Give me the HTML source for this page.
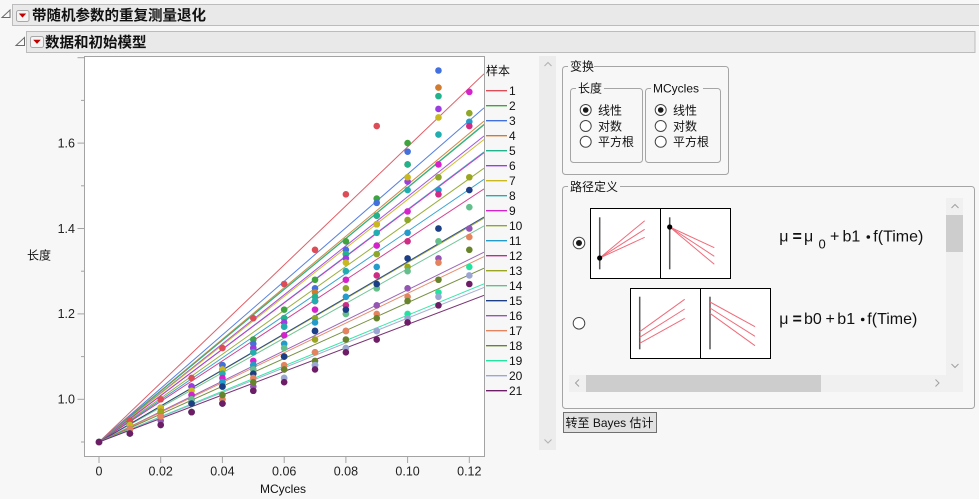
<!DOCTYPE html>
<html><head><meta charset="utf-8"><style>
html,body{margin:0;padding:0;background:#f7f7f7;}
svg{display:block;}
text{font-family:"Liberation Sans","Noto Sans CJK SC",sans-serif;fill:#111;}
.t{font-size:12.5px;fill:#222;}
.l{font-size:12px;}
.h{font-size:14.5px;font-weight:bold;}
.f{font-size:16px;}
.ln{fill:none;stroke-width:1;opacity:0.9;}
</style></head><body>
<svg width="979" height="499" viewBox="0 0 979 499" xmlns="http://www.w3.org/2000/svg">
<defs>
<ellipse id="p" cx="0" cy="0" rx="0.107" ry="0.773"/>
<clipPath id="pc"><rect x="85" y="57" width="399" height="399"/></clipPath>
</defs>
<rect x="0" y="0" width="979" height="499" fill="#f7f7f7"/>

<!-- Header 1 -->
<rect x="12.5" y="4.5" width="970" height="21" fill="#e9e9e9" stroke="#bcbcbc"/>
<polygon points="2,17.5 10,17.5 10,10" fill="#fafafa" stroke="#6a6a6a" stroke-width="1"/>
<rect x="16.5" y="10.5" width="12.5" height="11" rx="2" fill="#f4f4f4" stroke="#a8a8a8"/>
<polygon points="18.8,13.5 26.2,13.5 22.5,17.6" fill="#c00000"/>
<text x="32" y="20.5" class="h">带随机参数的重复测量退化</text>

<!-- Header 2 -->
<rect x="26.5" y="31.5" width="948.5" height="21" fill="#e9e9e9" stroke="#bcbcbc"/>
<polygon points="16,45.5 24.5,45.5 24.5,37.5" fill="#fafafa" stroke="#6a6a6a" stroke-width="1"/>
<rect x="30.5" y="36.5" width="13" height="11" rx="2" fill="#f4f4f4" stroke="#a8a8a8"/>
<polygon points="33.2,39.8 40.8,39.8 37,43.9" fill="#c00000"/>
<text x="45" y="47.5" class="h">数据和初始模型</text>

<!-- Plot frame -->
<rect x="84.5" y="56.5" width="400" height="400" fill="#ffffff"/>

<!-- fitted lines -->
<g clip-path="url(#pc)">
<line class="ln" x1="99" y1="442" x2="484" y2="73.8" stroke="#DC4D57"/>
<line class="ln" x1="99" y1="442" x2="484" y2="124.9" stroke="#3FA33F"/>
<line class="ln" x1="99" y1="442" x2="484" y2="107.9" stroke="#4271DE"/>
<line class="ln" x1="99" y1="442" x2="484" y2="121.1" stroke="#D27B2E"/>
<line class="ln" x1="99" y1="442" x2="484" y2="124.2" stroke="#22B28C"/>
<line class="ln" x1="99" y1="442" x2="484" y2="136.0" stroke="#9B3DE3"/>
<line class="ln" x1="99" y1="442" x2="484" y2="139.5" stroke="#C9B81E"/>
<line class="ln" x1="99" y1="442" x2="484" y2="151.9" stroke="#22ADB0"/>
<line class="ln" x1="99" y1="442" x2="484" y2="152.8" stroke="#D523CC"/>
<line class="ln" x1="99" y1="442" x2="484" y2="168.2" stroke="#8EA72A"/>
<line class="ln" x1="99" y1="442" x2="484" y2="179.3" stroke="#239BCB"/>
<line class="ln" x1="99" y1="442" x2="484" y2="188.9" stroke="#CF2C86"/>
<line class="ln" x1="99" y1="442" x2="484" y2="218.2" stroke="#9AA520"/>
<line class="ln" x1="99" y1="442" x2="484" y2="225.9" stroke="#64BF8C"/>
<line class="ln" x1="99" y1="442" x2="484" y2="217.1" stroke="#1C3E86"/>
<line class="ln" x1="99" y1="442" x2="484" y2="252.2" stroke="#9455B3"/>
<line class="ln" x1="99" y1="442" x2="484" y2="256.6" stroke="#E3845F"/>
<line class="ln" x1="99" y1="442" x2="484" y2="268.2" stroke="#67842D"/>
<line class="ln" x1="99" y1="442" x2="484" y2="283.8" stroke="#22E4A0"/>
<line class="ln" x1="99" y1="442" x2="484" y2="287.5" stroke="#9DA6D3"/>
<line class="ln" x1="99" y1="442" x2="484" y2="295.3" stroke="#6C1D66"/>
</g>

<!-- data points: x = index (0.01 MCycles), y = length*100 -->
<g transform="translate(99,826.3) scale(30.86,-4.27)">
<g fill="#DC4D57"><use href="#p" x="0" y="90"/><use href="#p" x="1" y="95"/><use href="#p" x="2" y="100"/><use href="#p" x="3" y="105"/><use href="#p" x="4" y="112"/><use href="#p" x="5" y="119"/><use href="#p" x="6" y="127"/><use href="#p" x="7" y="135"/><use href="#p" x="8" y="148"/><use href="#p" x="9" y="164"/></g>
<g fill="#3FA33F"><use href="#p" x="0" y="90"/><use href="#p" x="1" y="94"/><use href="#p" x="2" y="98"/><use href="#p" x="3" y="103"/><use href="#p" x="4" y="108"/><use href="#p" x="5" y="114"/><use href="#p" x="6" y="121"/><use href="#p" x="7" y="128"/><use href="#p" x="8" y="137"/><use href="#p" x="9" y="147"/><use href="#p" x="10" y="160"/></g>
<g fill="#4271DE"><use href="#p" x="0" y="90"/><use href="#p" x="1" y="94"/><use href="#p" x="2" y="98"/><use href="#p" x="3" y="103"/><use href="#p" x="4" y="108"/><use href="#p" x="5" y="113"/><use href="#p" x="6" y="119"/><use href="#p" x="7" y="126"/><use href="#p" x="8" y="135"/><use href="#p" x="9" y="146"/><use href="#p" x="10" y="158"/><use href="#p" x="11" y="177"/></g>
<g fill="#D27B2E"><use href="#p" x="0" y="90"/><use href="#p" x="1" y="94"/><use href="#p" x="2" y="98"/><use href="#p" x="3" y="103"/><use href="#p" x="4" y="107"/><use href="#p" x="5" y="112"/><use href="#p" x="6" y="119"/><use href="#p" x="7" y="125"/><use href="#p" x="8" y="134"/><use href="#p" x="9" y="143"/><use href="#p" x="10" y="155"/><use href="#p" x="11" y="173"/></g>
<g fill="#22B28C"><use href="#p" x="0" y="90"/><use href="#p" x="1" y="94"/><use href="#p" x="2" y="98"/><use href="#p" x="3" y="103"/><use href="#p" x="4" y="107"/><use href="#p" x="5" y="112"/><use href="#p" x="6" y="119"/><use href="#p" x="7" y="124"/><use href="#p" x="8" y="134"/><use href="#p" x="9" y="143"/><use href="#p" x="10" y="155"/><use href="#p" x="11" y="171"/></g>
<g fill="#9B3DE3"><use href="#p" x="0" y="90"/><use href="#p" x="1" y="94"/><use href="#p" x="2" y="98"/><use href="#p" x="3" y="103"/><use href="#p" x="4" y="107"/><use href="#p" x="5" y="112"/><use href="#p" x="6" y="118"/><use href="#p" x="7" y="123"/><use href="#p" x="8" y="133"/><use href="#p" x="9" y="141"/><use href="#p" x="10" y="151"/><use href="#p" x="11" y="168"/></g>
<g fill="#C9B81E"><use href="#p" x="0" y="90"/><use href="#p" x="1" y="94"/><use href="#p" x="2" y="98"/><use href="#p" x="3" y="102"/><use href="#p" x="4" y="107"/><use href="#p" x="5" y="111"/><use href="#p" x="6" y="117"/><use href="#p" x="7" y="123"/><use href="#p" x="8" y="132"/><use href="#p" x="9" y="141"/><use href="#p" x="10" y="152"/><use href="#p" x="11" y="166"/></g>
<g fill="#22ADB0"><use href="#p" x="0" y="90"/><use href="#p" x="1" y="93"/><use href="#p" x="2" y="97"/><use href="#p" x="3" y="101"/><use href="#p" x="4" y="106"/><use href="#p" x="5" y="111"/><use href="#p" x="6" y="117"/><use href="#p" x="7" y="123"/><use href="#p" x="8" y="130"/><use href="#p" x="9" y="139"/><use href="#p" x="10" y="149"/><use href="#p" x="11" y="162"/></g>
<g fill="#D523CC"><use href="#p" x="0" y="90"/><use href="#p" x="1" y="92"/><use href="#p" x="2" y="97"/><use href="#p" x="3" y="101"/><use href="#p" x="4" y="105"/><use href="#p" x="5" y="109"/><use href="#p" x="6" y="115"/><use href="#p" x="7" y="121"/><use href="#p" x="8" y="128"/><use href="#p" x="9" y="136"/><use href="#p" x="10" y="144"/><use href="#p" x="11" y="155"/><use href="#p" x="12" y="172"/></g>
<g fill="#8EA72A"><use href="#p" x="0" y="90"/><use href="#p" x="1" y="92"/><use href="#p" x="2" y="96"/><use href="#p" x="3" y="100"/><use href="#p" x="4" y="104"/><use href="#p" x="5" y="108"/><use href="#p" x="6" y="113"/><use href="#p" x="7" y="119"/><use href="#p" x="8" y="126"/><use href="#p" x="9" y="134"/><use href="#p" x="10" y="142"/><use href="#p" x="11" y="152"/><use href="#p" x="12" y="167"/></g>
<g fill="#239BCB"><use href="#p" x="0" y="90"/><use href="#p" x="1" y="93"/><use href="#p" x="2" y="96"/><use href="#p" x="3" y="100"/><use href="#p" x="4" y="104"/><use href="#p" x="5" y="108"/><use href="#p" x="6" y="113"/><use href="#p" x="7" y="118"/><use href="#p" x="8" y="124"/><use href="#p" x="9" y="131"/><use href="#p" x="10" y="139"/><use href="#p" x="11" y="149"/><use href="#p" x="12" y="165"/></g>
<g fill="#CF2C86"><use href="#p" x="0" y="90"/><use href="#p" x="1" y="93"/><use href="#p" x="2" y="97"/><use href="#p" x="3" y="100"/><use href="#p" x="4" y="103"/><use href="#p" x="5" y="107"/><use href="#p" x="6" y="110"/><use href="#p" x="7" y="116"/><use href="#p" x="8" y="122"/><use href="#p" x="9" y="129"/><use href="#p" x="10" y="137"/><use href="#p" x="11" y="148"/><use href="#p" x="12" y="164"/></g>
<g fill="#9AA520"><use href="#p" x="0" y="90"/><use href="#p" x="1" y="92"/><use href="#p" x="2" y="97"/><use href="#p" x="3" y="99"/><use href="#p" x="4" y="103"/><use href="#p" x="5" y="106"/><use href="#p" x="6" y="110"/><use href="#p" x="7" y="114"/><use href="#p" x="8" y="120"/><use href="#p" x="9" y="126"/><use href="#p" x="10" y="131"/><use href="#p" x="11" y="140"/><use href="#p" x="12" y="152"/></g>
<g fill="#64BF8C"><use href="#p" x="0" y="90"/><use href="#p" x="1" y="93"/><use href="#p" x="2" y="96"/><use href="#p" x="3" y="100"/><use href="#p" x="4" y="103"/><use href="#p" x="5" y="107"/><use href="#p" x="6" y="112"/><use href="#p" x="7" y="116"/><use href="#p" x="8" y="120"/><use href="#p" x="9" y="126"/><use href="#p" x="10" y="130"/><use href="#p" x="11" y="137"/><use href="#p" x="12" y="145"/></g>
<g fill="#1C3E86"><use href="#p" x="0" y="90"/><use href="#p" x="1" y="92"/><use href="#p" x="2" y="96"/><use href="#p" x="3" y="99"/><use href="#p" x="4" y="103"/><use href="#p" x="5" y="106"/><use href="#p" x="6" y="110"/><use href="#p" x="7" y="116"/><use href="#p" x="8" y="121"/><use href="#p" x="9" y="127"/><use href="#p" x="10" y="133"/><use href="#p" x="11" y="140"/><use href="#p" x="12" y="149"/></g>
<g fill="#9455B3"><use href="#p" x="0" y="90"/><use href="#p" x="1" y="92"/><use href="#p" x="2" y="95"/><use href="#p" x="3" y="97"/><use href="#p" x="4" y="100"/><use href="#p" x="5" y="103"/><use href="#p" x="6" y="107"/><use href="#p" x="7" y="111"/><use href="#p" x="8" y="116"/><use href="#p" x="9" y="122"/><use href="#p" x="10" y="126"/><use href="#p" x="11" y="133"/><use href="#p" x="12" y="140"/></g>
<g fill="#E3845F"><use href="#p" x="0" y="90"/><use href="#p" x="1" y="93"/><use href="#p" x="2" y="96"/><use href="#p" x="3" y="97"/><use href="#p" x="4" y="100"/><use href="#p" x="5" y="105"/><use href="#p" x="6" y="108"/><use href="#p" x="7" y="111"/><use href="#p" x="8" y="116"/><use href="#p" x="9" y="120"/><use href="#p" x="10" y="124"/><use href="#p" x="11" y="132"/><use href="#p" x="12" y="138"/></g>
<g fill="#67842D"><use href="#p" x="0" y="90"/><use href="#p" x="1" y="92"/><use href="#p" x="2" y="94"/><use href="#p" x="3" y="97"/><use href="#p" x="4" y="101"/><use href="#p" x="5" y="104"/><use href="#p" x="6" y="107"/><use href="#p" x="7" y="109"/><use href="#p" x="8" y="114"/><use href="#p" x="9" y="119"/><use href="#p" x="10" y="123"/><use href="#p" x="11" y="128"/><use href="#p" x="12" y="135"/></g>
<g fill="#22E4A0"><use href="#p" x="0" y="90"/><use href="#p" x="1" y="92"/><use href="#p" x="2" y="94"/><use href="#p" x="3" y="97"/><use href="#p" x="4" y="99"/><use href="#p" x="5" y="102"/><use href="#p" x="6" y="105"/><use href="#p" x="7" y="108"/><use href="#p" x="8" y="112"/><use href="#p" x="9" y="116"/><use href="#p" x="10" y="120"/><use href="#p" x="11" y="125"/><use href="#p" x="12" y="131"/></g>
<g fill="#9DA6D3"><use href="#p" x="0" y="90"/><use href="#p" x="1" y="92"/><use href="#p" x="2" y="94"/><use href="#p" x="3" y="97"/><use href="#p" x="4" y="99"/><use href="#p" x="5" y="102"/><use href="#p" x="6" y="105"/><use href="#p" x="7" y="108"/><use href="#p" x="8" y="112"/><use href="#p" x="9" y="116"/><use href="#p" x="10" y="119"/><use href="#p" x="11" y="124"/><use href="#p" x="12" y="129"/></g>
<g fill="#6C1D66"><use href="#p" x="0" y="90"/><use href="#p" x="1" y="92"/><use href="#p" x="2" y="94"/><use href="#p" x="3" y="97"/><use href="#p" x="4" y="99"/><use href="#p" x="5" y="102"/><use href="#p" x="6" y="104"/><use href="#p" x="7" y="107"/><use href="#p" x="8" y="111"/><use href="#p" x="9" y="114"/><use href="#p" x="10" y="118"/><use href="#p" x="11" y="122"/><use href="#p" x="12" y="127"/></g>
</g>

<rect x="84.5" y="56.5" width="400" height="400" fill="none" stroke="#a3a3a3"/>

<!-- Y axis ticks -->
<g stroke="#a3a3a3" stroke-width="1">
<line x1="77.5" y1="399.3" x2="84" y2="399.3"/>
<line x1="77.5" y1="313.9" x2="84" y2="313.9"/>
<line x1="77.5" y1="228.5" x2="84" y2="228.5"/>
<line x1="77.5" y1="143.1" x2="84" y2="143.1"/>
<line x1="77.5" y1="57.7" x2="84" y2="57.7"/>
<line x1="81" y1="442" x2="84" y2="442"/>
<line x1="81" y1="356.6" x2="84" y2="356.6"/>
<line x1="81" y1="271.2" x2="84" y2="271.2"/>
<line x1="81" y1="185.8" x2="84" y2="185.8"/>
<line x1="81" y1="100.4" x2="84" y2="100.4"/>
</g>
<g class="t" text-anchor="end">
<text x="75" y="403.6" class="t">1.0</text>
<text x="75" y="318.2" class="t">1.2</text>
<text x="75" y="232.8" class="t">1.4</text>
<text x="75" y="147.4" class="t">1.6</text>
</g>
<text x="27" y="259.5" class="l">长度</text>

<!-- X axis ticks -->
<g stroke="#a3a3a3" stroke-width="1">
<line x1="99" y1="457" x2="99" y2="463"/>
<line x1="160.7" y1="457" x2="160.7" y2="463"/>
<line x1="222.4" y1="457" x2="222.4" y2="463"/>
<line x1="284.2" y1="457" x2="284.2" y2="463"/>
<line x1="345.9" y1="457" x2="345.9" y2="463"/>
<line x1="407.6" y1="457" x2="407.6" y2="463"/>
<line x1="469.3" y1="457" x2="469.3" y2="463"/>
</g>
<g text-anchor="middle">
<text x="99" y="475.5" class="t">0</text>
<text x="160.7" y="475.5" class="t">0.02</text>
<text x="222.4" y="475.5" class="t">0.04</text>
<text x="284.2" y="475.5" class="t">0.06</text>
<text x="345.9" y="475.5" class="t">0.08</text>
<text x="407.6" y="475.5" class="t">0.10</text>
<text x="469.3" y="475.5" class="t">0.12</text>
<text x="283" y="493" class="l">MCycles</text>
</g>

<!-- Legend -->
<text x="486" y="75" class="l">样本</text>
<g stroke-width="1.3">
<line x1="486" y1="90.7" x2="507" y2="90.7" stroke="#DC4D57"/>
<line x1="486" y1="105.7" x2="507" y2="105.7" stroke="#3FA33F"/>
<line x1="486" y1="120.7" x2="507" y2="120.7" stroke="#4271DE"/>
<line x1="486" y1="135.7" x2="507" y2="135.7" stroke="#D27B2E"/>
<line x1="486" y1="150.7" x2="507" y2="150.7" stroke="#22B28C"/>
<line x1="486" y1="165.7" x2="507" y2="165.7" stroke="#9B3DE3"/>
<line x1="486" y1="180.7" x2="507" y2="180.7" stroke="#C9B81E"/>
<line x1="486" y1="195.7" x2="507" y2="195.7" stroke="#22ADB0"/>
<line x1="486" y1="210.7" x2="507" y2="210.7" stroke="#D523CC"/>
<line x1="486" y1="225.7" x2="507" y2="225.7" stroke="#8EA72A"/>
<line x1="486" y1="240.7" x2="507" y2="240.7" stroke="#239BCB"/>
<line x1="486" y1="255.7" x2="507" y2="255.7" stroke="#B8308E"/>
<line x1="486" y1="270.7" x2="507" y2="270.7" stroke="#9AA520"/>
<line x1="486" y1="285.7" x2="507" y2="285.7" stroke="#64BF8C"/>
<line x1="486" y1="300.7" x2="507" y2="300.7" stroke="#1C3E86"/>
<line x1="486" y1="315.7" x2="507" y2="315.7" stroke="#9455B3"/>
<line x1="486" y1="330.7" x2="507" y2="330.7" stroke="#E3845F"/>
<line x1="486" y1="345.7" x2="507" y2="345.7" stroke="#67842D"/>
<line x1="486" y1="360.7" x2="507" y2="360.7" stroke="#22E4A0"/>
<line x1="486" y1="375.7" x2="507" y2="375.7" stroke="#9DA6D3"/>
<line x1="486" y1="390.7" x2="507" y2="390.7" stroke="#6C1D66"/>
</g>
<g class="l">
<text x="509" y="95" class="l">1</text>
<text x="509" y="110" class="l">2</text>
<text x="509" y="125" class="l">3</text>
<text x="509" y="140" class="l">4</text>
<text x="509" y="155" class="l">5</text>
<text x="509" y="170" class="l">6</text>
<text x="509" y="185" class="l">7</text>
<text x="509" y="200" class="l">8</text>
<text x="509" y="215" class="l">9</text>
<text x="509" y="230" class="l">10</text>
<text x="509" y="245" class="l">11</text>
<text x="509" y="260" class="l">12</text>
<text x="509" y="275" class="l">13</text>
<text x="509" y="290" class="l">14</text>
<text x="509" y="305" class="l">15</text>
<text x="509" y="320" class="l">16</text>
<text x="509" y="335" class="l">17</text>
<text x="509" y="350" class="l">18</text>
<text x="509" y="365" class="l">19</text>
<text x="509" y="380" class="l">20</text>
<text x="509" y="395" class="l">21</text>
</g>

<!-- Right panel scroll strip -->
<rect x="539" y="56" width="17" height="394" fill="#ececec"/>
<polyline points="544.5,66 548,62.5 551.5,66" fill="none" stroke="#b0b0b0" stroke-width="1"/>
<polyline points="544.5,439.5 548,443 551.5,439.5" fill="none" stroke="#b0b0b0" stroke-width="1"/>

<!-- 变换 group -->
<rect x="562.5" y="66.5" width="166" height="108" rx="3" fill="none" stroke="#a5a5a5"/>
<rect x="568" y="58" width="26" height="14" fill="#f7f7f7"/>
<text x="570" y="70.5" class="l">变换</text>
<rect x="570.5" y="88.5" width="72" height="74" rx="3" fill="none" stroke="#a5a5a5"/>
<rect x="576" y="80" width="28" height="14" fill="#f7f7f7"/>
<text x="578" y="92.5" class="l">长度</text>
<rect x="645.5" y="88.5" width="75" height="74" rx="3" fill="none" stroke="#a5a5a5"/>
<rect x="651" y="80" width="52" height="14" fill="#f7f7f7"/>
<text x="653" y="92.5" class="l">MCycles</text>

<g fill="#fff" stroke="#444" stroke-width="1">
<circle cx="585.7" cy="110" r="5.5"/>
<circle cx="585.7" cy="126" r="5.5"/>
<circle cx="585.7" cy="141.7" r="5.5"/>
<circle cx="660.7" cy="110" r="5.5"/>
<circle cx="660.7" cy="126" r="5.5"/>
<circle cx="660.7" cy="141.7" r="5.5"/>
</g>
<circle cx="585.7" cy="110" r="2.8" fill="#1a1a1a"/>
<circle cx="660.7" cy="110" r="2.8" fill="#1a1a1a"/>
<text x="598" y="114.3" class="l">线性</text>
<text x="598" y="130.3" class="l">对数</text>
<text x="598" y="146" class="l">平方根</text>
<text x="673" y="114.3" class="l">线性</text>
<text x="673" y="130.3" class="l">对数</text>
<text x="673" y="146" class="l">平方根</text>

<!-- 路径定义 group -->
<rect x="562.5" y="186.5" width="412" height="222" rx="3" fill="none" stroke="#a5a5a5"/>
<rect x="568" y="178" width="52" height="14" fill="#f7f7f7"/>
<text x="570" y="191" class="l">路径定义</text>

<!-- scrollbars -->
<rect x="946" y="198" width="17" height="177" fill="#f0f0f0"/>
<rect x="946" y="215" width="17" height="37" fill="#cdcdcd"/>
<rect x="569" y="375" width="377" height="17" fill="#f0f0f0"/>
<rect x="586" y="375" width="235" height="17" fill="#cdcdcd"/>
<rect x="946" y="375" width="17" height="17" fill="#f0f0f0"/>
<polyline points="951.5,208 955,204.5 958.5,208" fill="none" stroke="#a0a0a0"/>
<polyline points="951.5,364 955,367.5 958.5,364" fill="none" stroke="#a0a0a0"/>
<polyline points="579,379.5 575.5,383 579,386.5" fill="none" stroke="#a0a0a0"/>
<polyline points="935.5,379.5 939,383 935.5,386.5" fill="none" stroke="#a0a0a0"/>

<!-- option radios -->
<circle cx="579" cy="243" r="5.8" fill="#fff" stroke="#444"/>
<circle cx="579" cy="243" r="3" fill="#1a1a1a"/>
<circle cx="579" cy="323.3" r="5.8" fill="#fff" stroke="#444"/>

<!-- image 1 -->
<rect x="590.5" y="208.5" width="140" height="70" fill="#fff" stroke="#000"/>
<line x1="660.5" y1="208.5" x2="660.5" y2="278.5" stroke="#000"/>
<line x1="599.7" y1="217.3" x2="599.7" y2="269.3" stroke="#555" stroke-width="1.5"/>
<g stroke="#f06b7a" stroke-width="1">
<line x1="599.7" y1="258" x2="644.7" y2="220.7"/>
<line x1="599.7" y1="258" x2="644.7" y2="229.3"/>
<line x1="599.7" y1="258" x2="644.7" y2="237.3"/>
</g>
<circle cx="599.7" cy="258" r="2.6" fill="#000"/>
<line x1="669.7" y1="217.3" x2="669.7" y2="269.3" stroke="#555" stroke-width="1.5"/>
<g stroke="#f06b7a" stroke-width="1">
<line x1="669.7" y1="227" x2="714.3" y2="247.7"/>
<line x1="669.7" y1="227" x2="714.3" y2="256.3"/>
<line x1="669.7" y1="227" x2="714.3" y2="264.3"/>
</g>
<circle cx="669.7" cy="227" r="2.6" fill="#000"/>

<!-- image 2 -->
<rect x="630.5" y="288.5" width="140" height="70" fill="#fff" stroke="#000"/>
<line x1="700.5" y1="288.5" x2="700.5" y2="358.5" stroke="#000"/>
<line x1="639.7" y1="296.7" x2="639.7" y2="349.3" stroke="#555" stroke-width="1.5"/>
<g stroke="#f06b7a" stroke-width="1">
<line x1="639.7" y1="331.7" x2="684.7" y2="299.3"/>
<line x1="639.7" y1="337.3" x2="684.7" y2="309"/>
<line x1="639.7" y1="343.3" x2="684.7" y2="318.3"/>
</g>
<line x1="710" y1="296.7" x2="710" y2="349.3" stroke="#555" stroke-width="1.5"/>
<g stroke="#f06b7a" stroke-width="1">
<line x1="710" y1="302" x2="755" y2="326.7"/>
<line x1="710" y1="308" x2="755" y2="336.3"/>
<line x1="710" y1="313.3" x2="755" y2="345.7"/>
</g>

<!-- formula 1 -->
<text x="779.3" y="241.5" class="f">μ</text>
<text x="792.5" y="241.5" class="f" font-weight="bold">=</text>
<text x="804" y="241.5" class="f">μ</text>
<text x="818.5" y="248.5" style="font-size:13px">0</text>
<text x="830" y="241.5" class="f">+</text>
<text x="842.5" y="241.5" class="f">b1</text>
<circle cx="868.3" cy="237" r="1.8" fill="#111"/>
<text x="873.3" y="241.5" class="f">f(Time)</text>

<!-- formula 2 -->
<text x="779.3" y="324" class="f">μ</text>
<text x="792.5" y="324" class="f" font-weight="bold">=</text>
<text x="804" y="324" class="f">b0</text>
<text x="825.5" y="324" class="f">+</text>
<text x="837.3" y="324" class="f">b1</text>
<circle cx="862.7" cy="319.5" r="1.8" fill="#111"/>
<text x="867.3" y="324" class="f">f(Time)</text>

<!-- button -->
<rect x="563.5" y="412.5" width="93" height="20" fill="#e1e1e1" stroke="#707070"/>
<text x="565.5" y="427" class="l">转至 Bayes 估计</text>
</svg>
</body></html>
